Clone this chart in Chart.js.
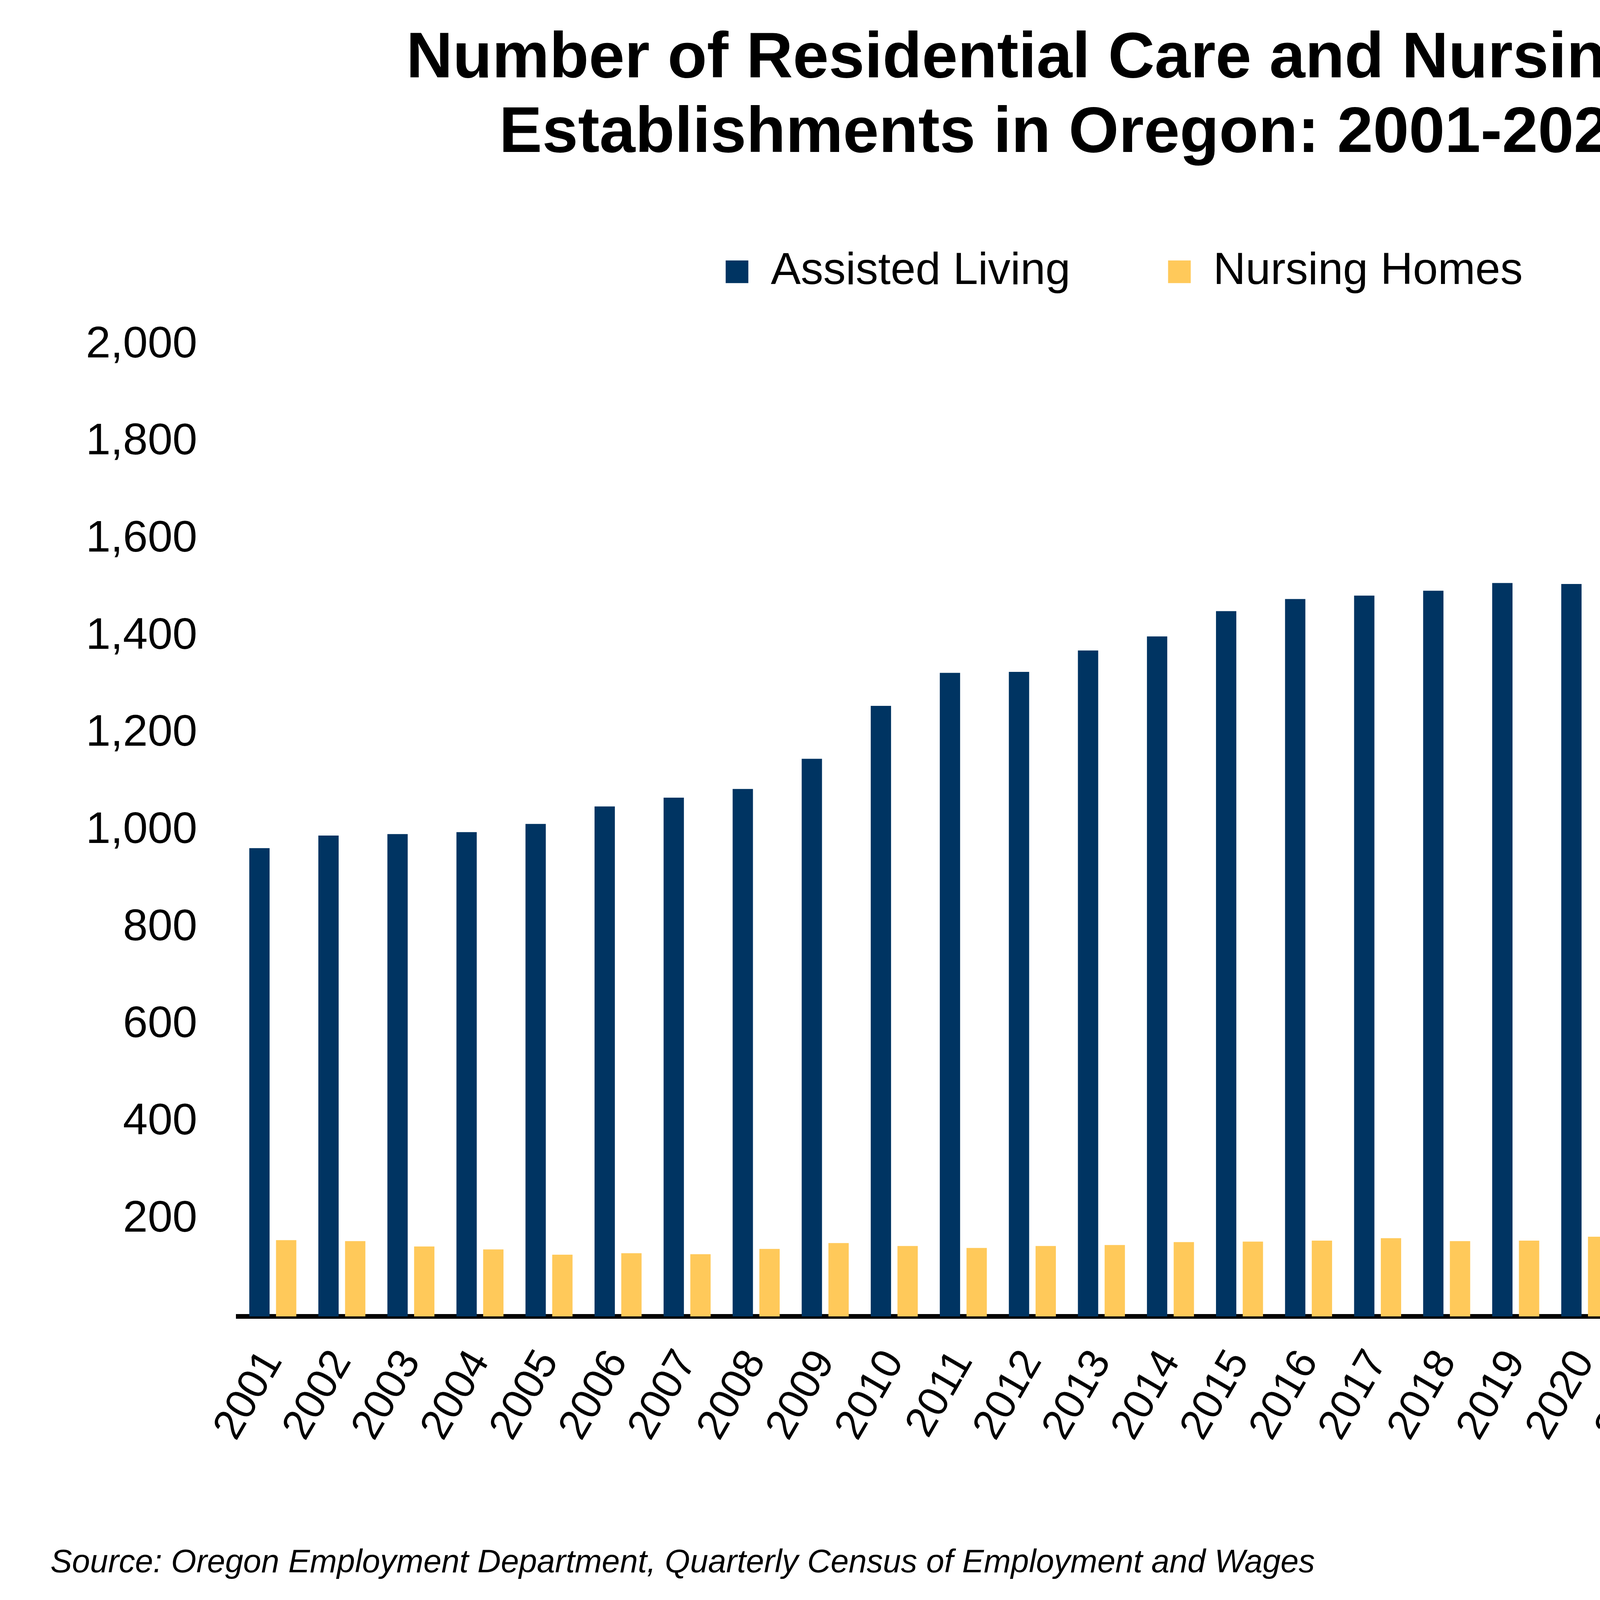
<!DOCTYPE html>
<html>
<head>
<meta charset="utf-8">
<title>Residential Care and Nursing Home Establishments in Oregon</title>
<script src="https://cdn.jsdelivr.net/npm/chart.js@4/dist/chart.umd.min.js"></script>
<style>
  html, body { margin: 0; padding: 0; background: #fff; }
  canvas { display: block; }
</style>
</head>
<body>
<canvas id="myChart" width="5684" height="4118"></canvas>
<script>
const years = ['2001', '2002', '2003', '2004', '2005', '2006', '2007', '2008', '2009', '2010',
  '2011', '2012', '2013', '2014', '2015', '2016', '2017', '2018', '2019', '2020',
  '2021', '2022', '2023', '2024', '2025', '2026-q1'];

const assistedLiving = [964, 990, 993, 997, 1014, 1050, 1068, 1086, 1148, 1257,
  1325, 1327, 1371, 1400, 1452, 1477, 1484, 1494, 1510, 1508,
  1511, 1534, 1742, 1675, 1590, 1526];

const nursingHomes = [157, 155, 144, 138, 127, 130, 128, 139, 151, 145,
  141, 145, 147, 153, 154, 156, 161, 155, 156, 164,
  162, 166, 195, 197, 198, 198];

const yTicks = [200, 400, 600, 800, 1000, 1200, 1400, 1600, 1800, 2000];

const titleLines = ['Number of Residential Care and Nursing Home', 'Establishments in Oregon: 2001-2026/Q1'];
const sourceNote = 'Source: Oregon Employment Department, Quarterly Census of Employment and Wages';

const FONT = '"Liberation Sans", Arial, Helvetica, sans-serif';
const fmt = v => v.toLocaleString('en-US');

// callouts: which bar, where the leader line ends and where the two text lines sit (px from bar top)
const callouts = [
  { ds: 0, idx: 22, line: [17, -134], t1: [15, -360], t2: [32, -218] },
  { ds: 0, idx: 25, line: [52, -75], t1: [47, -301], t2: [69, -158] },
  { ds: 1, idx: 25, line: [195, -50], t1: [189, -316], t2: [198, -168] }
];

const calloutPlugin = {
  id: 'callouts',
  afterDatasetsDraw(chart) {
    const ctx = chart.ctx;
    ctx.save();
    ctx.strokeStyle = '#000';
    ctx.lineWidth = 5;
    ctx.fillStyle = '#000';
    ctx.font = '120px ' + FONT;
    ctx.textAlign = 'center';
    ctx.textBaseline = 'middle';
    callouts.forEach(c => {
      const bar = chart.getDatasetMeta(c.ds).data[c.idx];
      const value = chart.data.datasets[c.ds].data[c.idx];
      const bx = bar.x, by = bar.y;
      ctx.beginPath();
      ctx.moveTo(bx, by);
      ctx.lineTo(bx + c.line[0], by + c.line[1]);
      ctx.stroke();
      ctx.fillText(years[c.idx], bx + c.t1[0], by + c.t1[1]);
      ctx.fillText(fmt(value), bx + c.t2[0], by + c.t2[1]);
    });
    ctx.restore();
  }
};

const sourcePlugin = {
  id: 'sourceNote',
  afterDraw(chart) {
    const ctx = chart.ctx;
    ctx.save();
    ctx.fillStyle = '#000';
    ctx.font = 'italic 83px ' + FONT;
    ctx.textAlign = 'left';
    ctx.textBaseline = 'alphabetic';
    ctx.fillText(sourceNote, 129, 4025);
    ctx.restore();
  }
};

const ctx = document.getElementById('myChart');
new Chart(ctx, {
  type: 'bar',
  data: {
    labels: years,
    datasets: [{
      label: 'Assisted Living',
      data: assistedLiving,
      backgroundColor: '#003462',
      categoryPercentage: 0.774,
      barPercentage: 0.76
    }, {
      label: 'Nursing Homes',
      data: nursingHomes,
      backgroundColor: '#FFC95A',
      categoryPercentage: 0.774,
      barPercentage: 0.76
    }]
  },
  plugins: [calloutPlugin, sourcePlugin],
  options: {
    responsive: false,
    animation: false,
    devicePixelRatio: 1,
    layout: { padding: { left: 129, right: 57, top: 0, bottom: 0 } },
    plugins: {
      title: {
        display: true,
        text: titleLines,
        color: '#000',
        font: { family: FONT, size: 165, weight: 'bold', lineHeight: 1.158 },
        padding: { top: 57, bottom: -51 }
      },
      legend: {
        display: true,
        position: 'top',
        labels: {
          color: '#000',
          font: { family: FONT, size: 115 },
          boxWidth: 58,
          boxHeight: 58,
          padding: 250
        }
      },
      tooltip: { enabled: false }
    },
    scales: {
      x: {
        grid: { display: false, drawTicks: false },
        border: { display: true, color: '#000', width: 12 },
        ticks: {
          color: '#000',
          font: { family: FONT, size: 108 },
          minRotation: 60,
          maxRotation: 60,
          autoSkip: false,
          padding: 66
        },
        afterFit(scale) { scale.height = 748; }
      },
      // empty band between the legend and the plot
      xGap: {
        type: 'category',
        position: 'top',
        display: true,
        grid: { display: false, drawTicks: false },
        border: { display: false },
        ticks: { display: false },
        afterFit(scale) { scale.height = 120; }
      },
      y: {
        min: 0,
        max: 2000,
        afterBuildTicks(scale) { scale.ticks = yTicks.map(v => ({ value: v })); },
        grid: { display: false, drawTicks: false },
        border: { display: false },
        ticks: {
          color: '#000',
          font: { family: FONT, size: 114 },
          padding: 105,
          callback: v => fmt(v)
        },
        afterFit(scale) { scale.width = 481; }
      },
      // empty band on the right that holds the callouts
      yRight: {
        position: 'right',
        display: true,
        grid: { display: false, drawTicks: false },
        border: { display: false },
        ticks: { display: false },
        afterFit(scale) { scale.width = 421; }
      }
    }
  }
});
</script>
</body>
</html>
